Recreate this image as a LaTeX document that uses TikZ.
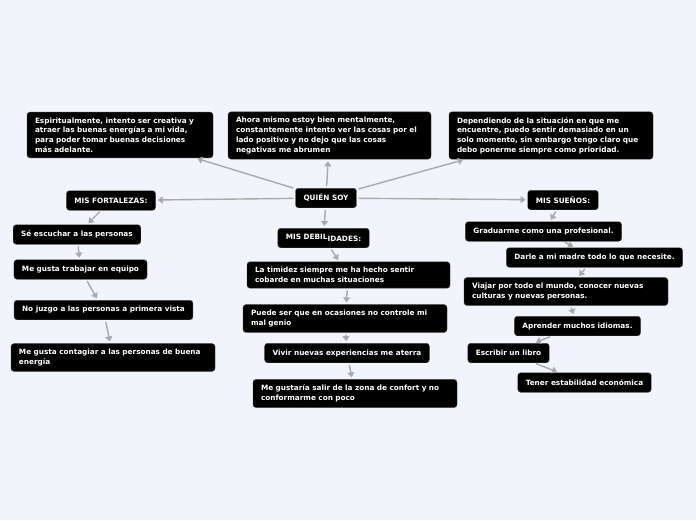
\documentclass[tikz,border=0pt]{standalone}
\usepackage{fontspec}
\setmainfont{DejaVu Sans}
\usetikzlibrary{arrows.meta}
\definecolor{Fondo}{HTML}{F2F4FC}
\definecolor{Linea}{HTML}{A9A9A9}

\begin{document}
\begin{tikzpicture}[x=1pt,y=-1pt,
    caja/.style={fill=black,draw=black!75,rounded corners=3pt,text=white,
      font=\fontsize{7.3}{9.7}\selectfont\bfseries,inner xsep=8pt,inner ysep=5.5pt,minimum height=19.5pt},
    larga/.style={caja,text width=#1,align=left},
    conn/.style={draw=Linea,line width=1.4pt,-{Triangle[width=7pt,length=5pt]},shorten <=2pt,shorten >=2pt}]
  \fill[Fondo] (0,0) rectangle (696,520);
  % centro y ramas
  \node[caja] (qs) at (326,198) {QUIÉN SOY};
  \node[larga=170pt] (a) at (120,135) {Espiritualmente, intento ser creativa y\\atraer las buenas energías a mi vida,\\para poder tomar buenas decisiones\\más adelante.};
  \node[larga=187pt] (b) at (329.5,135.5) {Ahora mismo estoy bien mentalmente,\\constantemente intento ver las cosas por el\\lado positivo y no dejo que las cosas\\negativas me abrumen};
  \node[larga=188pt] (c) at (551,135.5) {Dependiendo de la situación en que me\\encuentre, puedo sentir demasiado en un\\solo momento, sin embargo tengo claro que\\debo ponerme siempre como prioridad.};
  \node[caja] (fort) at (111,200.5) {MIS FORTALEZAS:};
  \node[caja] (sue) at (563,200) {MIS SUEÑOS:};
  \node[caja] (deb) at (323.5,238) {MIS DEBIL\raisebox{-1.5pt}{IDADES:}};
  % fortalezas
  \node[caja] (f1) at (77,234.5) {Sé escuchar a las personas};
  \node[caja] (f2) at (80.5,269.5) {Me gusta trabajar en equipo};
  \node[caja] (f3) at (103.5,310) {No juzgo a las personas a primera vista};
  \node[larga=188pt] (f4) at (113,357.5) {Me gusta contagiar a las personas de buena\\energía};
  % debilidades
  \node[larga=187pt] (d1) at (348.5,275) {La timidez siempre me ha hecho sentir\\cobarde en muchas situaciones};
  \node[larga=188pt] (d2) at (345,318.5) {Puede ser que en ocasiones no controle mi\\mal genio};
  \node[caja] (d3) at (347,353) {Vivir nuevas experiencias me aterra};
  \node[larga=188pt] (d4) at (355,393.5) {Me gustaría salir de la zona de confort y no\\conformarme con poco};
  % suenos
  \node[caja] (s1) at (543.5,231.5) {Graduarme como una profesional.};
  \node[caja] (s2) at (594.5,257.5) {Darle a mi madre todo lo que necesite.};
  \node[larga=188pt] (s3) at (566,291.5) {Viajar por todo el mundo, conocer nuevas\\culturas y nuevas personas.};
  \node[caja] (s4) at (577.5,326) {Aprender muchos idiomas.};
  \node[caja] (s5) at (508.5,353) {Escribir un libro};
  \node[caja] (s6) at (584.5,382.5) {Tener estabilidad económica};
  % conectores
  \foreach \p/\h in {qs/a,qs/b,qs/c,qs/fort,qs/sue,qs/deb,fort/f1,f1/f2,f2/f3,f3/f4,
      deb/d1,d1/d2,d2/d3,d3/d4,sue/s1,s1/s2,s2/s3,s3/s4,s4/s5,s5/s6}
    {\draw[conn] (\p) -- (\h);}
\end{tikzpicture}
\end{document}
